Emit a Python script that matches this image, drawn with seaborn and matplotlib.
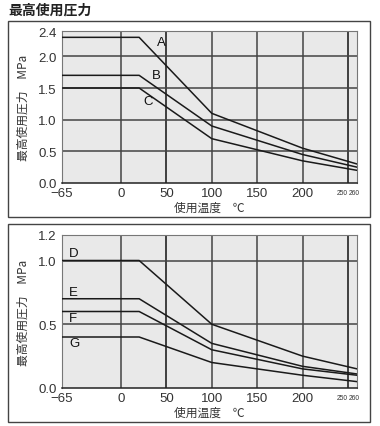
import pandas as pd
import matplotlib.pyplot as plt
import matplotlib.transforms as mtransforms
import seaborn as sns
from matplotlib.patches import Rectangle

# ----------------------------------------------------------------------
# data
# ----------------------------------------------------------------------
temps = [-65, 20, 100, 200, 260]

top_series = {
    "A": [2.3, 2.3, 1.1, 0.55, 0.3],
    "B": [1.7, 1.7, 0.9, 0.45, 0.25],
    "C": [1.5, 1.5, 0.7, 0.35, 0.2],
}
bottom_series = {
    "D": [1.0, 1.0, 0.5, 0.25, 0.15],
    "E": [0.7, 0.7, 0.35, 0.17, 0.11],
    "F": [0.6, 0.6, 0.3, 0.15, 0.1],
    "G": [0.4, 0.4, 0.2, 0.1, 0.05],
}

# label anchor points (temperature, pressure)
top_labels = {"A": (40, 2.23), "B": (34, 1.71), "C": (25, 1.3)}
bottom_labels = {"D": (-57, 1.06), "E": (-57, 0.75), "F": (-57, 0.55), "G": (-57, 0.35)}

x_ticks = [-65, 0, 50, 100, 150, 200, 250, 260]
x_ticklabels = ["\u221265", "0", "50", "100", "150", "200", "250", "260"]
top_yticks = [0.0, 0.5, 1.0, 1.5, 2.0, 2.4]
bottom_yticks = [0.0, 0.5, 1.0, 1.2]

title = "最高使用圧力"
xlabel = "使用温度　℃"
ylabel = "最高使用圧力　MPa"

sns.set_style("white")
plt.rcParams["font.family"] = ["Noto Sans CJK JP", "DejaVu Sans"]

TEXT = "#333333"
BG = "#e9e9e9"
NUM_FONT = ["Liberation Sans", "DejaVu Sans"]


def to_long(series):
    rows = []
    for name, vals in series.items():
        for t, p in zip(temps, vals):
            rows.append({"temp": t, "pressure": p, "series": name})
    return pd.DataFrame(rows)


def draw_panel(fig, ax, series, labels, yticks, ymax):
    df = to_long(series)
    ax.set_facecolor(BG)
    # grid
    for v in [0, 50, 100, 150, 200, 250]:
        col = "#111111" if v in (50, 250) else "#444444"
        ax.axvline(v, color=col, lw=1.1, zorder=1)
    for h in yticks[1:-1]:
        ax.axhline(h, color="#444444", lw=1.1, zorder=1)
    sns.lineplot(data=df, x="temp", y="pressure", units="series",
                 estimator=None, color="#1a1a1a", lw=1.1, ax=ax,
                 legend=False, zorder=3)
    for name, (tx, ty) in labels.items():
        ax.text(tx, ty, name, fontsize=9.5, color="#111111",
                family=NUM_FONT, ha="left", va="center", zorder=4)
    ax.set_xlim(-65, 260)
    ax.set_ylim(0, ymax)
    ax.set_xticks(x_ticks)
    ax.set_xticklabels(x_ticklabels)
    ax.set_yticks(yticks)
    ax.set_yticklabels([f"{v:.1f}" for v in yticks])
    ax.tick_params(axis="both", labelsize=9.5, colors=TEXT, length=3,
                   width=0.8, pad=1)
    ax.tick_params(axis="x", length=0, pad=3)
    for lbl in ax.get_xticklabels() + ax.get_yticklabels():
        lbl.set_family(NUM_FONT)
    # squeezed "250 260" pair at the right end
    for lbl, dx in zip(ax.get_xticklabels()[-2:], [-0.5, 2.5]):
        lbl.set_fontsize(4.8)
        lbl.set_ha("right")
        lbl.set_transform(lbl.get_transform() + mtransforms.ScaledTranslation(
            dx / 100, -2 / 100, fig.dpi_scale_trans))
    for s in ["top", "right", "left"]:
        ax.spines[s].set_color("#777777")
        ax.spines[s].set_linewidth(0.8)
    ax.spines["bottom"].set_color("#222222")
    ax.spines["bottom"].set_linewidth(1.1)
    ax.set_xlabel(xlabel, fontsize=8.5, color=TEXT, labelpad=1)
    ax.set_ylabel(ylabel, fontsize=8.5, color=TEXT, labelpad=6)


fig = plt.figure(figsize=(3.8, 4.27), dpi=100)
fig.patch.set_facecolor("white")

# panel frames
for y0, y1 in [(22, 218), (225, 423)]:
    fig.add_artist(Rectangle((8 / 380, 1 - y1 / 427), 362 / 380, (y1 - y0) / 427,
                             transform=fig.transFigure, fill=False,
                             edgecolor="#444444", lw=1.0))

fig.text(8 / 380, 1 - 11 / 427, title, fontsize=10, fontweight="bold",
         color="#222222", va="center", ha="left")

ax1 = fig.add_axes([62 / 380, 1 - 184 / 427, 295 / 380, 152 / 427])
ax2 = fig.add_axes([62 / 380, 1 - 389 / 427, 295 / 380, 153 / 427])

draw_panel(fig, ax1, top_series, top_labels, top_yticks, 2.4)
draw_panel(fig, ax2, bottom_series, bottom_labels, bottom_yticks, 1.2)

fig.savefig("out.png", dpi=100)
